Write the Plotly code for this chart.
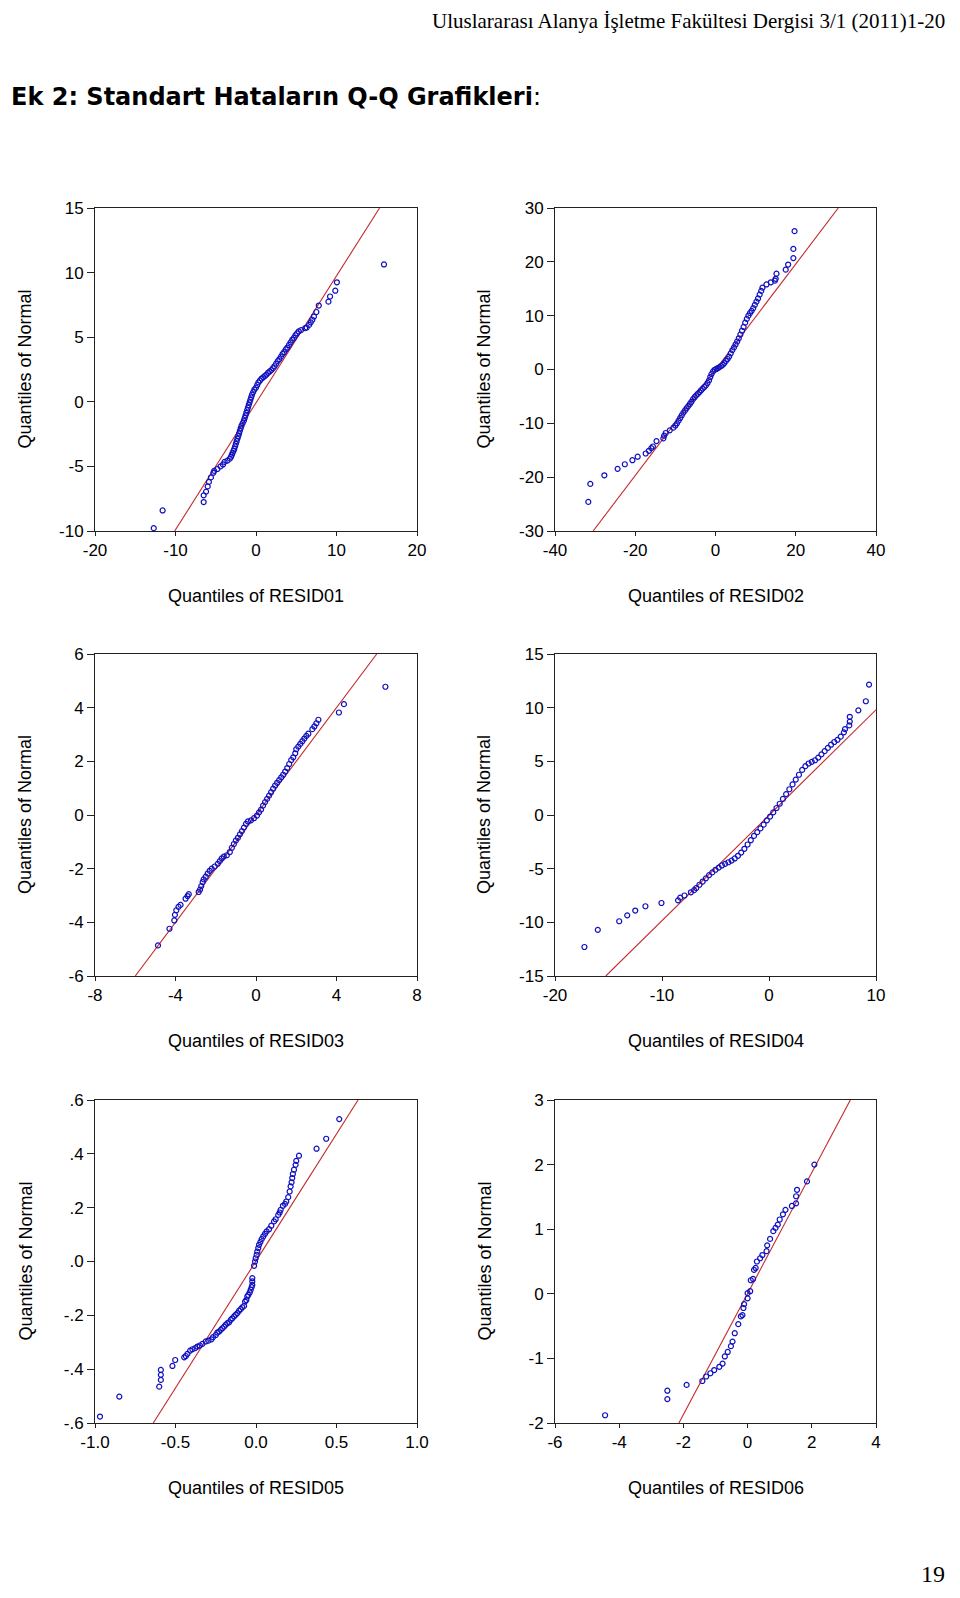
import plotly.graph_objects as go

# ---------------- data ----------------
resid01 = [-12.7, -11.6, -6.5, -6.5, -6.2, -6.0, -5.85, -5.6, -5.3, -5.2, -4.8, -4.4, -4.1, -3.9, -3.55, -3.25,
           -3.1, -3.0, -2.9, -2.8, -2.7, -2.6, -2.5, -2.4, -2.3, -2.2, -2.1, -2.0, -1.9, -1.8, -1.65, -1.5, -1.4, -1.3,
           -1.2, -1.1, -1.0, -0.9, -0.8, -0.7, -0.6, -0.5, -0.35, -0.2,
           0.0, 0.15, 0.3, 0.5, 0.7, 0.9, 1.1, 1.3, 1.5, 1.7, 1.9, 2.1, 2.3, 2.5, 2.7, 2.9, 3.1, 3.3, 3.5, 3.7, 3.9,
           4.1, 4.3, 4.5, 4.7, 4.9, 5.1, 5.3, 5.6,
           6.1, 6.3, 6.6, 6.8, 7.0, 7.2, 7.5, 7.8, 9.0, 9.2, 9.85, 10.05, 15.9]
normq01 = [-9.78, -8.41, -7.76, -7.24, -6.95, -6.55, -6.2, -5.85, -5.5, -5.35, -5.2, -5.0, -4.85, -4.65, -4.55, -4.4,
           -4.25, -4.1, -3.95, -3.8, -3.65, -3.45, -3.25, -3.05, -2.85, -2.65, -2.45, -2.25, -2.05, -1.85, -1.65, -1.45,
           -1.25, -1.05, -0.85, -0.65, -0.45, -0.25, -0.05, 0.15, 0.35, 0.55, 0.75, 0.95,
           1.1, 1.3, 1.5, 1.65, 1.8, 1.9, 2.0, 2.1, 2.25, 2.35, 2.45, 2.6, 2.75, 2.95, 3.15, 3.3, 3.5, 3.7, 3.85, 4.05,
           4.2, 4.4, 4.6, 4.8, 4.95, 5.15, 5.3, 5.45, 5.55,
           5.7, 5.75, 5.95, 6.15, 6.35, 6.6, 6.95, 7.45, 7.75, 8.15, 8.6, 9.25, 10.63]

resid02 = [-31.7, -31.2, -27.7, -24.4, -22.6, -20.7, -19.4, -17.4, -16.6, -16.0, -15.6, -14.7, -13.0, -12.8, -12.4,
           -11.4, -10.5,
           -10.0, -9.6, -9.2, -8.8, -8.4, -8.0, -7.6, -7.2, -6.8, -6.4, -6.0, -5.6, -5.2, -4.8, -4.4, -4.0, -3.6, -3.2,
           -2.8, -2.4, -2.0, -1.6, -1.3, -1.0, -0.6, -0.2,
           0.2, 0.6, 1.0, 1.4, 1.8, 2.2, 2.6, 3.0, 3.4, 3.8, 4.2, 4.6, 5.0, 5.4, 5.8, 6.2, 6.6, 7.0, 7.4, 7.8, 8.2, 8.6,
           9.0, 9.4, 9.8, 10.2, 10.6, 11.0, 11.4, 11.7,
           12.7, 13.8, 14.8, 15.0, 15.2, 17.5, 18.1, 19.4, 19.4, 19.7]
normq02 = [-24.6, -21.25, -19.65, -18.45, -17.6, -16.85, -16.2, -15.6, -15.1, -14.6, -14.3, -13.3, -12.8, -12.3,
           -11.8, -11.3, -10.8,
           -10.4, -10.0, -9.5, -9.0, -8.5, -8.0, -7.6, -7.2, -6.8, -6.4, -6.0, -5.5, -5.15, -4.8, -4.5, -4.2, -3.85,
           -3.55, -3.25, -2.95, -2.5, -2.0, -1.4, -0.85, -0.35, -0.05,
           0.1, 0.25, 0.45, 0.65, 0.85, 1.2, 1.6, 1.95, 2.4, 3.0, 3.6, 4.1, 4.65, 5.2, 5.8, 6.5, 7.2, 7.9, 8.7, 9.4,
           10.0, 10.5, 10.9, 11.4, 12.0, 12.6, 13.2, 13.9, 14.6, 15.2,
           15.8, 16.2, 16.5, 16.85, 17.8, 18.55, 19.5, 20.7, 22.4, 25.7]

resid03 = [-4.87, -4.3, -4.06, -4.03, -3.96, -3.85, -3.75, -3.5, -3.4, -3.34,
           -2.85, -2.78, -2.72, -2.65, -2.6, -2.5, -2.4, -2.3, -2.2, -2.05, -1.9, -1.8, -1.7, -1.6, -1.45, -1.3, -1.2,
           -1.1, -1.0, -0.9, -0.8, -0.7, -0.6, -0.5, -0.4, -0.25, -0.1,
           0.05, 0.15, 0.25, 0.35, 0.45, 0.55, 0.65, 0.75, 0.85, 0.95, 1.05, 1.15, 1.25, 1.35, 1.45, 1.55, 1.65, 1.75,
           1.85, 1.95, 2.0, 2.1, 2.2, 2.3, 2.4, 2.5, 2.6, 2.8, 2.9, 3.0, 3.1,
           4.12, 4.37, 6.43]
normq03 = [-4.86, -4.24, -3.93, -3.72, -3.55, -3.42, -3.35, -3.12, -3.02, -2.95,
           -2.87, -2.78, -2.65, -2.5, -2.4, -2.3, -2.18, -2.08, -2.0, -1.92, -1.82, -1.72, -1.62, -1.55, -1.5, -1.38,
           -1.22, -1.08, -0.95, -0.85, -0.72, -0.6, -0.47, -0.33, -0.24, -0.2, -0.12,
           -0.02, 0.1, 0.2, 0.35, 0.48, 0.6, 0.72, 0.85, 0.98, 1.1, 1.2, 1.3, 1.4, 1.5, 1.62, 1.75, 1.9, 2.05, 2.15,
           2.3, 2.45, 2.55, 2.65, 2.75, 2.85, 2.95, 3.03, 3.2, 3.3, 3.42, 3.55,
           3.82, 4.13, 4.78]

resid04 = [-17.25, -16.0, -14.0, -13.25, -12.5, -11.55, -10.05, -8.5, -8.3, -7.9,
           -7.3, -7.0, -6.8, -6.5, -6.2, -5.9, -5.6, -5.3, -5.0, -4.7, -4.4, -4.1, -3.8, -3.5, -3.2, -2.9, -2.6, -2.3,
           -2.0, -1.7, -1.4, -1.1, -0.8, -0.5, -0.2,
           0.1, 0.4, 0.7, 1.0, 1.3, 1.6, 1.9, 2.2, 2.5, 2.8, 3.1, 3.4, 3.7, 4.0, 4.3, 4.6, 4.9, 5.2, 5.5, 5.8, 6.1,
           6.4, 6.7, 7.0,
           7.1, 7.5, 7.55, 7.55, 8.35, 9.05, 9.35]
normq04 = [-12.3, -10.7, -9.9, -9.35, -8.9, -8.5, -8.2, -7.95, -7.7, -7.5,
           -7.2, -7.0, -6.8, -6.5, -6.2, -5.9, -5.6, -5.35, -5.1, -4.9, -4.7, -4.55, -4.4, -4.25, -4.05, -3.8, -3.5,
           -3.15, -2.75, -2.35, -1.95, -1.6, -1.25, -0.9, -0.5,
           -0.15, 0.25, 0.65, 1.05, 1.5, 1.95, 2.4, 2.85, 3.3, 3.75, 4.2, 4.55, 4.8, 4.95, 5.1, 5.35, 5.65, 5.95, 6.25,
           6.55, 6.8, 7.0, 7.3, 7.7,
           8.0, 8.35, 8.7, 9.15, 9.75, 10.6, 12.15]

resid05 = [-0.969, -0.849, -0.601, -0.591, -0.591, -0.591, -0.519, -0.502,
           -0.446, -0.436, -0.426, -0.409, -0.395, -0.378, -0.364, -0.349, -0.333, -0.312, -0.295, -0.277, -0.267,
           -0.25, -0.24, -0.229, -0.219, -0.209, -0.198, -0.188, -0.178, -0.167, -0.157, -0.147, -0.136, -0.126,
           -0.116, -0.105, -0.095, -0.085, -0.074, -0.068, -0.06, -0.054, -0.048, -0.039, -0.033, -0.027, -0.023,
           -0.023, -0.023,
           -0.012, -0.006, -0.002, 0.004, 0.008, 0.014, 0.019, 0.027, 0.035, 0.045, 0.056, 0.066, 0.081, 0.095,
           0.112, 0.122, 0.138, 0.147, 0.153, 0.167, 0.18, 0.188, 0.2, 0.209, 0.215, 0.221, 0.225, 0.229, 0.236,
           0.246, 0.25, 0.267,
           0.376, 0.436, 0.517]
normq05 = [-0.576, -0.502, -0.465, -0.44, -0.421, -0.403, -0.388, -0.366,
           -0.356, -0.351, -0.343, -0.331, -0.326, -0.322, -0.316, -0.312, -0.306, -0.297, -0.294, -0.289, -0.281,
           -0.273, -0.264, -0.26, -0.254, -0.248, -0.242, -0.235, -0.229, -0.226, -0.217, -0.211, -0.204, -0.198,
           -0.192, -0.183, -0.177, -0.17, -0.165, -0.149, -0.143, -0.13, -0.124, -0.115, -0.105, -0.095, -0.087,
           -0.074, -0.062,
           -0.016, 0.0, 0.012, 0.025, 0.037, 0.05, 0.062, 0.072, 0.083, 0.093, 0.103, 0.112, 0.12, 0.133,
           0.149, 0.157, 0.173, 0.182, 0.192, 0.207, 0.214, 0.223, 0.239, 0.26, 0.279, 0.294, 0.31, 0.325, 0.341,
           0.359, 0.374, 0.393,
           0.419, 0.456, 0.529]

resid06 = [-4.44, -2.5, -2.5, -1.9, -1.41, -1.29, -1.16, -1.04, -0.88, -0.78, -0.71, -0.62, -0.52, -0.47, -0.4,
           -0.29, -0.21, -0.16, -0.13, -0.11, 0.0, 0.0, 0.08, 0.1, 0.17, 0.2, 0.25, 0.29, 0.39, 0.46, 0.59, 0.61,
           0.7, 0.8, 0.87, 0.94, 1.0, 1.1, 1.18, 1.38, 1.51, 1.51, 1.54, 1.85, 2.08]
normq06 = [-1.88, -1.63, -1.5, -1.41, -1.35, -1.28, -1.23, -1.18, -1.13, -1.08, -0.97, -0.9, -0.81, -0.74, -0.61,
           -0.47, -0.35, -0.33, -0.22, -0.16, -0.07, 0.01, 0.04, 0.21, 0.23, 0.37, 0.4, 0.5, 0.55, 0.6, 0.66, 0.75,
           0.85, 0.97, 1.02, 1.07, 1.15, 1.23, 1.3, 1.36, 1.4, 1.51, 1.61, 1.74, 2.0]

# reference lines (end points where they meet the frame)
line01_x, line01_y = [-10.1, 15.35], [-10, 15]
line02_x, line02_y = [-30.5, 30.6], [-30, 30]
line03_x, line03_y = [-6.0, 6.0], [-6, 6]
line04_x, line04_y = [-15.25, 10.0], [-15, 9.8]
line05_x, line05_y = [-0.638, 0.634], [-0.6, 0.6]
line06_x, line06_y = [-2.14, 3.2], [-2, 3]

# axis ticks
x_ticks = [[-20, -10, 0, 10, 20], [-40, -20, 0, 20, 40], [-8, -4, 0, 4, 8],
           [-20, -10, 0, 10], [-1.0, -0.5, 0.0, 0.5, 1.0], [-6, -4, -2, 0, 2, 4]]
x_ticktext = [["-20", "-10", "0", "10", "20"], ["-40", "-20", "0", "20", "40"], ["-8", "-4", "0", "4", "8"],
              ["-20", "-10", "0", "10"], ["-1.0", "-0.5", "0.0", "0.5", "1.0"], ["-6", "-4", "-2", "0", "2", "4"]]
y_ticks = [[-10, -5, 0, 5, 10, 15], [-30, -20, -10, 0, 10, 20, 30], [-6, -4, -2, 0, 2, 4, 6],
           [-15, -10, -5, 0, 5, 10, 15], [-0.6, -0.4, -0.2, 0.0, 0.2, 0.4, 0.6], [-2, -1, 0, 1, 2, 3]]
y_ticktext = [["-10", "-5", "0", "5", "10", "15"], ["-30", "-20", "-10", "0", "10", "20", "30"],
              ["-6", "-4", "-2", "0", "2", "4", "6"], ["-15", "-10", "-5", "0", "5", "10", "15"],
              ["-.6", "-.4", "-.2", ".0", ".2", ".4", ".6"], ["-2", "-1", "0", "1", "2", "3"]]
x_titles = ["Quantiles of RESID01", "Quantiles of RESID02", "Quantiles of RESID03",
            "Quantiles of RESID04", "Quantiles of RESID05", "Quantiles of RESID06"]
y_title = "Quantiles of Normal"

series = [(resid01, normq01, line01_x, line01_y), (resid02, normq02, line02_x, line02_y),
          (resid03, normq03, line03_x, line03_y), (resid04, normq04, line04_x, line04_y),
          (resid05, normq05, line05_x, line05_y), (resid06, normq06, line06_x, line06_y)]
for sx, sy, _, _ in series:
    assert len(sx) == len(sy), (len(sx), len(sy))

# ---------------- layout geometry (screen pixels) ----------------
OFF = 8  # page body margin in the browser
W, H = 960 - OFF, 1598 - 2 * OFF  # figure fits the window without scrollbars


def px(X):
    return (X - OFF) / W


def py(Y):
    return 1 - (Y - OFF) / H


cols = [(95, 417), (555, 876)]
rows = [(208, 531), (654, 976), (1100, 1423)]
xtitle_y = [596, 1041, 1488]
ytitle_x = [25, 484]

FONT = "Arial, 'Liberation Sans', sans-serif"
SERIF = "'Liberation Serif', 'Times New Roman', serif"
MARK = "#1010c0"
LINE = "#c42a2a"

fig = go.Figure()
layout = dict(width=W, height=H, margin=dict(l=0, r=0, t=0, b=0, pad=0, autoexpand=False),
              paper_bgcolor="white", plot_bgcolor="white", showlegend=False,
              font=dict(family=FONT, color="black"))
annotations = []

for i, (sx, sy, lx, ly) in enumerate(series):
    r, c = divmod(i, 2)
    x0, x1 = cols[c]
    top, bot = rows[r]
    n = i + 1
    xa = "x" if n == 1 else f"x{n}"
    ya = "y" if n == 1 else f"y{n}"
    fig.add_trace(go.Scatter(x=lx, y=ly, mode="lines", line=dict(color=LINE, width=1.1),
                             xaxis=xa, yaxis=ya, hoverinfo="skip"))
    fig.add_trace(go.Scatter(x=sx, y=sy, mode="markers",
                             marker=dict(symbol="circle-open", size=5, color=MARK,
                                         line=dict(width=1.2, color=MARK)),
                             xaxis=xa, yaxis=ya))
    xk = "xaxis" if n == 1 else f"xaxis{n}"
    yk = "yaxis" if n == 1 else f"yaxis{n}"
    layout[xk] = dict(domain=[px(x0), px(x1)], anchor=ya, range=[x_ticks[i][0], x_ticks[i][-1]],
                      tickvals=x_ticks[i], ticktext=x_ticktext[i], ticks="outside", ticklen=4,
                      tickwidth=1, tickcolor="#222", showline=True, linecolor="#222", linewidth=1,
                      mirror=True, showgrid=False, zeroline=False, automargin=False,
                      tickfont=dict(size=17, family=FONT))
    layout[yk] = dict(domain=[py(bot), py(top)], anchor=xa, range=[y_ticks[i][0], y_ticks[i][-1]],
                      tickvals=y_ticks[i], ticktext=y_ticktext[i], ticks="outside", ticklen=7,
                      tickwidth=1, tickcolor="#222", showline=True, linecolor="#222", linewidth=1,
                      mirror=True, showgrid=False, zeroline=False, automargin=False,
                      tickfont=dict(size=17, family=FONT))
    annotations.append(dict(text=x_titles[i], xref="paper", yref="paper", x=px((x0 + x1) / 2),
                            y=py(xtitle_y[r]), xanchor="center", yanchor="middle", showarrow=False,
                            font=dict(size=18, family=FONT)))
    annotations.append(dict(text=y_title, xref="paper", yref="paper", x=px(ytitle_x[c]),
                            y=py((top + bot) / 2), xanchor="center", yanchor="middle", showarrow=False,
                            textangle=-90, font=dict(size=18, family=FONT)))

annotations.append(dict(text="Uluslararası Alanya İşletme Fakültesi Dergisi 3/1 (2011)1-20", xref="paper",
                        yref="paper", x=px(947), y=py(21), xanchor="right", yanchor="middle",
                        showarrow=False, font=dict(size=21, family=SERIF)))
annotations.append(dict(text="<b>Ek 2: Standart Hataların Q-Q Grafikleri</b>:", xref="paper", yref="paper",
                        x=px(9), y=py(97), xanchor="left", yanchor="middle", showarrow=False,
                        font=dict(size=24, family="'DejaVu Sans', sans-serif")))
annotations.append(dict(text="19", xref="paper", yref="paper", x=px(947), y=py(1574), xanchor="right",
                        yanchor="middle", showarrow=False, font=dict(size=24, family=SERIF)))
layout["annotations"] = annotations
fig.update_layout(**layout)
fig.write_html("out.html")
